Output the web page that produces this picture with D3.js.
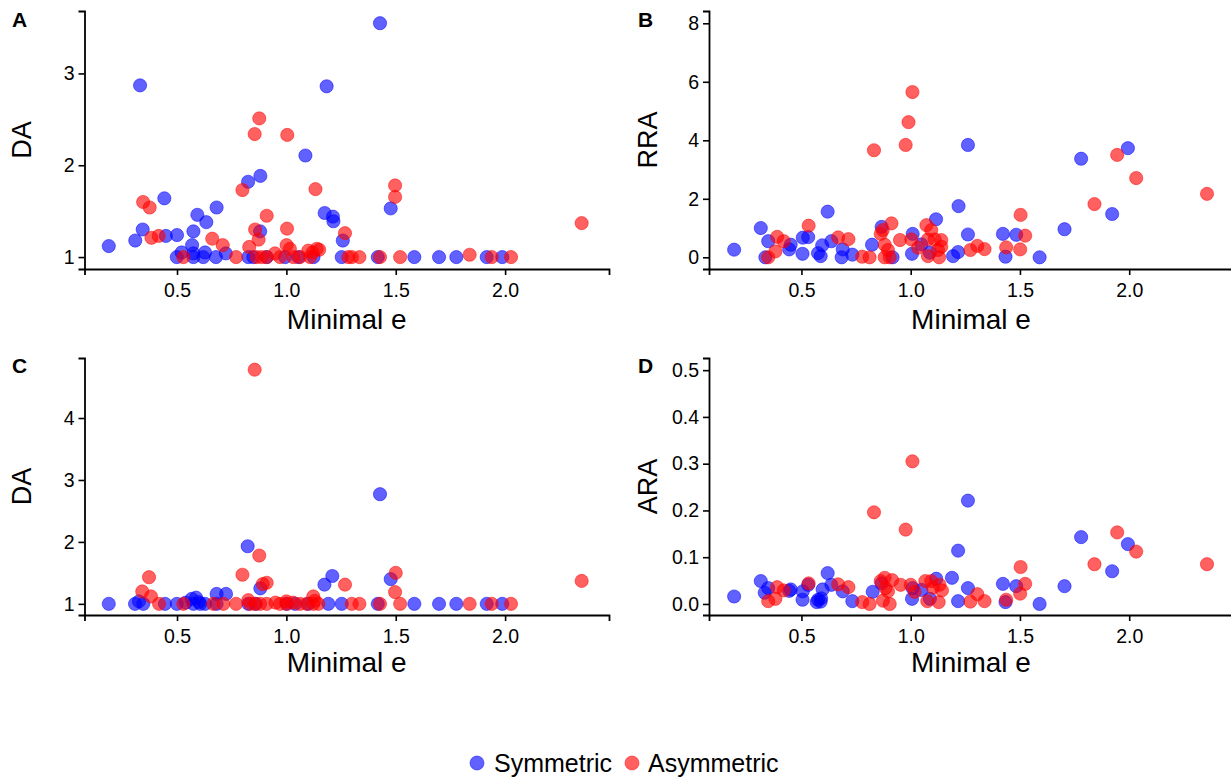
<!DOCTYPE html>
<html>
<head>
<meta charset="utf-8">
<script src="https://cdn.jsdelivr.net/npm/d3@7"></script>
<style>
  html, body { margin: 0; padding: 0; background: #fff; }
  svg { display: block; font-family: "Liberation Sans", Arial, Helvetica, sans-serif; }
</style>
</head>
<body>
<svg id="chart" width="1231" height="780"></svg>
<script>
// ---------- DATA ----------
const xTicks = [0.5, 1.0, 1.5, 2.0];
const seriesNames = ["Symmetric", "Asymmetric"];

const panelA_sym = [[0.188,1.12],[0.309,1.18],[0.331,2.87],[0.343,1.30],[0.442,1.64],[0.449,1.23],[0.5,1.24],[0.499,1.0],[0.521,1.05],[0.575,1.28],[0.569,1.13],[0.575,1.04],[0.575,1.0],[0.593,1.46],[0.62,1.0],[0.628,1.05],[0.634,1.38],[0.678,1.0],[0.681,1.54],[0.723,1.04],[0.825,1.82],[0.826,1.0],[0.849,1.0],[0.880,1.28],[0.881,1.884],[0.91,1.0],[0.994,1.0],[1.055,1.0],[1.087,2.106],[1.124,1.0],[1.175,1.48],[1.184,2.86],[1.213,1.44],[1.215,1.39],[1.253,1.0],[1.258,1.18],[1.418,1.0],[1.428,3.547],[1.477,1.53],[1.585,1.0],[1.698,1.0],[1.777,1.0],[1.916,1.0],[1.987,1.0]];
const panelA_asym = [[0.345,1.60],[0.375,1.54],[0.383,1.21],[0.416,1.23],[0.529,1.0],[0.661,1.20],[0.709,1.13],[0.77,1.0],[0.799,1.73],[0.83,1.11],[0.855,2.34],[0.857,1.30],[0.864,1.0],[0.873,1.19],[0.876,2.51],[0.887,1.0],[0.91,1.45],[0.91,1.0],[0.948,1.04],[0.971,1.0],[1.001,1.13],[1.003,1.31],[1.004,2.33],[1.016,1.09],[1.032,1.0],[1.062,1.0],[1.10,1.07],[1.108,1.0],[1.12,1.05],[1.15,1.08],[1.133,1.74],[1.139,1.09],[1.268,1.26],[1.283,1.0],[1.299,1.0],[1.334,1.0],[1.428,1.0],[1.497,1.78],[1.497,1.655],[1.52,1.0],[1.838,1.025],[1.939,1.0],[2.027,1.0],[2.35,1.37]];

const panelB_sym = [[0.192,0.26],[0.314,1.0],[0.335,0.0],[0.348,0.55],[0.444,0.27],[0.451,0.43],[0.505,0.12],[0.506,0.67],[0.531,0.69],[0.576,0.14],[0.588,0.04],[0.595,0.41],[0.62,1.56],[0.637,0.55],[0.684,0.0],[0.689,0.27],[0.733,0.09],[0.823,0.43],[0.867,1.04],[0.917,0.0],[1.006,0.12],[1.009,0.8],[1.049,0.44],[1.088,0.16],[1.116,1.30],[1.194,0.04],[1.217,0.18],[1.219,1.75],[1.262,3.84],[1.262,0.78],[1.422,0.8],[1.434,0.02],[1.483,0.77],[1.59,0.0],[1.704,0.96],[1.78,3.37],[1.922,1.48],[1.994,3.73]];
const panelB_asym = [[0.348,0.0],[0.381,0.2],[0.389,0.70],[0.419,0.55],[0.533,1.08],[0.668,0.68],[0.715,0.62],[0.778,0.02],[0.812,0.0],[0.832,3.66],[0.863,0.8],[0.872,0.93],[0.881,0.43],[0.881,0.0],[0.896,0.25],[0.904,0.0],[0.912,1.16],[0.951,0.59],[0.977,3.84],[0.99,4.62],[1.003,0.61],[1.008,5.65],[1.034,0.33],[1.072,1.10],[1.079,0.61],[1.079,0.04],[1.094,0.93],[1.11,0.61],[1.125,0.25],[1.13,0.0],[1.14,0.59],[1.14,0.36],[1.273,0.25],[1.305,0.39],[1.338,0.28],[1.437,0.34],[1.501,0.27],[1.503,1.45],[1.524,0.74],[1.841,1.82],[1.945,3.50],[2.032,2.71],[2.356,2.17]];

const panelC_sym = [[0.188,1.0],[0.308,1.0],[0.326,1.04],[0.346,1.0],[0.445,1.0],[0.499,1.0],[0.54,1.02],[0.567,1.08],[0.575,1.0],[0.587,1.10],[0.6,1.03],[0.606,1.0],[0.628,1.0],[0.681,1.16],[0.681,1.0],[0.724,1.16],[0.823,1.93],[0.826,1.0],[0.86,1.0],[0.881,1.25],[1.001,1.0],[1.04,1.0],[1.1,1.0],[1.174,1.31],[1.192,1.0],[1.21,1.45],[1.253,1.0],[1.418,1.0],[1.428,2.77],[1.477,1.40],[1.585,1.0],[1.698,1.0],[1.777,1.0],[1.916,1.0],[1.987,1.0]];
const panelC_asym = [[0.341,1.20],[0.372,1.43],[0.381,1.12],[0.418,1.0],[0.529,1.0],[0.666,1.0],[0.712,1.0],[0.77,1.0],[0.799,1.47],[0.826,1.06],[0.834,1.0],[0.855,4.78],[0.857,1.0],[0.876,1.78],[0.88,1.0],[0.892,1.32],[0.91,1.34],[0.91,1.0],[0.95,1.02],[0.971,1.0],[1.0,1.04],[1.001,1.0],[1.03,1.02],[1.062,1.0],[1.093,1.0],[1.123,1.12],[1.13,1.05],[1.123,1.0],[1.146,1.0],[1.268,1.31],[1.299,1.0],[1.334,1.0],[1.428,1.0],[1.497,1.19],[1.5,1.50],[1.52,1.0],[1.838,1.0],[1.939,1.0],[2.027,1.0],[2.35,1.37]];

const panelD_sym = [[0.192,0.016],[0.314,0.049],[0.332,0.024],[0.348,0.034],[0.444,0.028],[0.451,0.031],[0.505,0.009],[0.506,0.027],[0.531,0.041],[0.57,0.004],[0.576,0.009],[0.588,0.005],[0.59,0.012],[0.597,0.031],[0.62,0.066],[0.637,0.041],[0.689,0.027],[0.733,0.006],[0.826,0.026],[0.867,0.044],[1.006,0.011],[1.009,0.034],[1.049,0.030],[1.088,0.011],[1.117,0.054],[1.189,0.056],[1.217,0.006],[1.217,0.114],[1.262,0.221],[1.262,0.034],[1.422,0.043],[1.434,0.004],[1.483,0.038],[1.59,0.0],[1.704,0.038],[1.78,0.143],[1.922,0.070],[1.994,0.128]];
const panelD_asym = [[0.348,0.006],[0.381,0.011],[0.389,0.036],[0.419,0.029],[0.533,0.044],[0.668,0.042],[0.715,0.036],[0.778,0.004],[0.812,0.0],[0.832,0.196],[0.863,0.049],[0.873,0.007],[0.881,0.056],[0.885,0.034],[0.896,0.027],[0.904,0.0],[0.915,0.051],[0.954,0.041],[0.977,0.159],[1.0,0.041],[1.008,0.305],[1.018,0.026],[1.067,0.049],[1.076,0.006],[1.094,0.049],[1.102,0.035],[1.128,0.004],[1.132,0.041],[1.143,0.029],[1.273,0.005],[1.305,0.021],[1.338,0.006],[1.437,0.009],[1.501,0.022],[1.503,0.079],[1.524,0.043],[1.841,0.085],[1.945,0.153],[2.032,0.112],[2.356,0.085]];

const ticksA = [1, 2, 3];
const ticksB = [0, 2, 4, 6, 8];
const ticksC = [1, 2, 3, 4];
const ticksD = [0, 0.1, 0.2, 0.3, 0.4, 0.5];

// ---------- LAYOUT ----------
const svg = d3.select("#chart");
const colors = { Symmetric: "#0000FF", Asymmetric: "#FF0000" };
const xDomain = [0.077, 2.475];

const panels = [
  { label: "A", ylab: "DA",  sym: panelA_sym, asym: panelA_asym, ticks: ticksA, fmt: d3.format("d"),
    x0: 84.5, x1: 609, y0: 11, y1: 269, yDomain: [0.87, 3.68], labX: 12, labY: 27, ytX: 22, titleOff: 60 },
  { label: "B", ylab: "RRA", sym: panelB_sym, asym: panelB_asym, ticks: ticksB, fmt: d3.format("d"),
    x0: 709, x1: 1233, y0: 11, y1: 269, yDomain: [-0.4, 8.42], labX: 638, labY: 27, ytX: 648, titleOff: 60 },
  { label: "C", ylab: "DA",  sym: panelC_sym, asym: panelC_asym, ticks: ticksC, fmt: d3.format("d"),
    x0: 84.5, x1: 609, y0: 358, y1: 615, yDomain: [0.82, 4.969], labX: 12, labY: 373, ytX: 22, titleOff: 57 },
  { label: "D", ylab: "ARA", sym: panelD_sym, asym: panelD_asym, ticks: ticksD, fmt: d3.format(".1f"),
    x0: 709, x1: 1233, y0: 358, y1: 615, yDomain: [-0.0236, 0.526], labX: 638, labY: 373, ytX: 648, titleOff: 57 }
];

panels.forEach(p => {
  const x = d3.scaleLinear().domain(xDomain).range([p.x0, p.x1]);
  const y = d3.scaleLinear().domain(p.yDomain).range([p.y1, p.y0]);
  const g = svg.append("g");

  // points
  [["Symmetric", p.sym], ["Asymmetric", p.asym]].forEach(([name, data]) => {
    g.append("g").selectAll("circle").data(data).join("circle")
      .attr("cx", d => x(d[0]))
      .attr("cy", d => y(d[1]))
      .attr("r", 6.6)
      .attr("fill", colors[name])
      .attr("fill-opacity", 0.62)
      .attr("stroke", colors[name])
      .attr("stroke-opacity", 0.62)
      .attr("stroke-width", 0.8);
  });

  // axes
  const xAxis = d3.axisBottom(x).tickValues(xTicks).tickFormat(d3.format(".1f")).tickSizeOuter(0).tickSize(6).tickPadding(5);
  const yAxis = d3.axisLeft(y).tickValues(p.ticks).tickFormat(p.fmt).tickSizeOuter(0).tickSize(6).tickPadding(4);

  const gx = g.append("g").attr("transform", `translate(0,${p.y1})`).call(xAxis);
  const gy = g.append("g").attr("transform", `translate(${p.x0},0)`).call(yAxis);
  [gx, gy].forEach(a => {
    a.select(".domain").attr("stroke", "#000").attr("stroke-width", 1.8);
    a.selectAll(".tick line").attr("stroke", "#000").attr("stroke-width", 1.6);
    a.selectAll(".tick text").attr("fill", "#000").attr("font-size", 19.5)
      .attr("font-family", "'Liberation Sans', Arial, sans-serif");
  });
  gx.selectAll(".tick text").attr("dy", "0.88em");

  // axis titles
  g.append("text")
    .attr("x", (p.x0 + p.x1) / 2)
    .attr("y", p.y1 + p.titleOff)
    .attr("text-anchor", "middle")
    .attr("font-size", 28)
    .text("Minimal e");
  g.append("text")
    .attr("transform", `translate(${p.ytX + 9},${(p.y0 + p.y1) / 2}) rotate(-90)`)
    .attr("text-anchor", "middle")
    .attr("font-size", 27)
    .text(p.ylab);

  // panel label
  g.append("text")
    .attr("x", p.labX)
    .attr("y", p.labY)
    .attr("font-size", 21)
    .attr("font-weight", "bold")
    .text(p.label);
});

// legend
const legend = svg.append("g");
const legendItems = [
  { name: seriesNames[0], cx: 477, tx: 494 },
  { name: seriesNames[1], cx: 632, tx: 648 }
];
legendItems.forEach(it => {
  legend.append("circle").attr("cx", it.cx).attr("cy", 763).attr("r", 7)
    .attr("fill", colors[it.name]).attr("fill-opacity", 0.62)
    .attr("stroke", colors[it.name]).attr("stroke-opacity", 0.62).attr("stroke-width", 0.8);
  legend.append("text").attr("x", it.tx).attr("y", 772).attr("font-size", 25).text(it.name);
});
</script>
</body>
</html>
